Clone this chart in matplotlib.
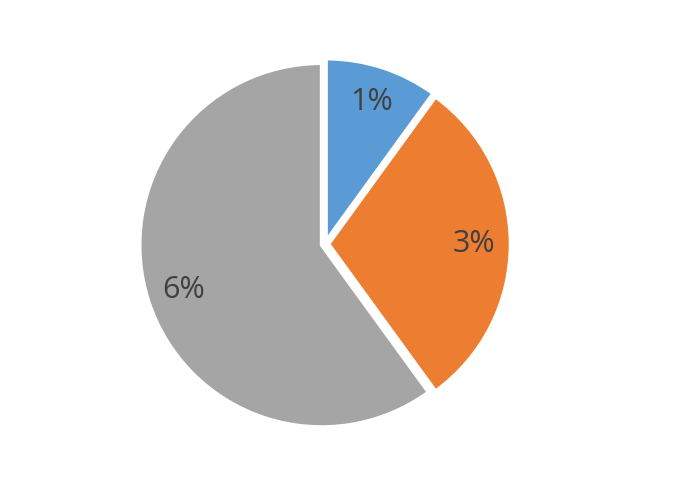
import matplotlib
matplotlib.use('Agg')
import matplotlib.pyplot as plt

labels = ['1%', '3%', '6%']
values = [1, 3, 6]
colors = ['#5B9BD5', '#ED7D31', '#A5A5A5']

fig = plt.figure(figsize=(7, 5), dpi=100)
ax = fig.add_axes([0.1786, 0.112, 0.5714, 0.8])

total = sum(values)
wedges, texts, autotexts = ax.pie(
    values, colors=colors, startangle=90, counterclock=False,
    explode=[0.02, 0.02, 0.02],
    autopct=lambda p: '%d%%' % round(p * total / 100), pctdistance=0.8,
    wedgeprops={'edgecolor': 'white', 'linewidth': 2.5},
    textprops={'fontsize': 22, 'color': '#404040', 'family': 'Open Sans'})
ax.set_xlim(-1.1, 1.1)
ax.set_ylim(-1.1, 1.1)
ax.set_aspect('equal')

plt.savefig('out.png')
plt.close()
